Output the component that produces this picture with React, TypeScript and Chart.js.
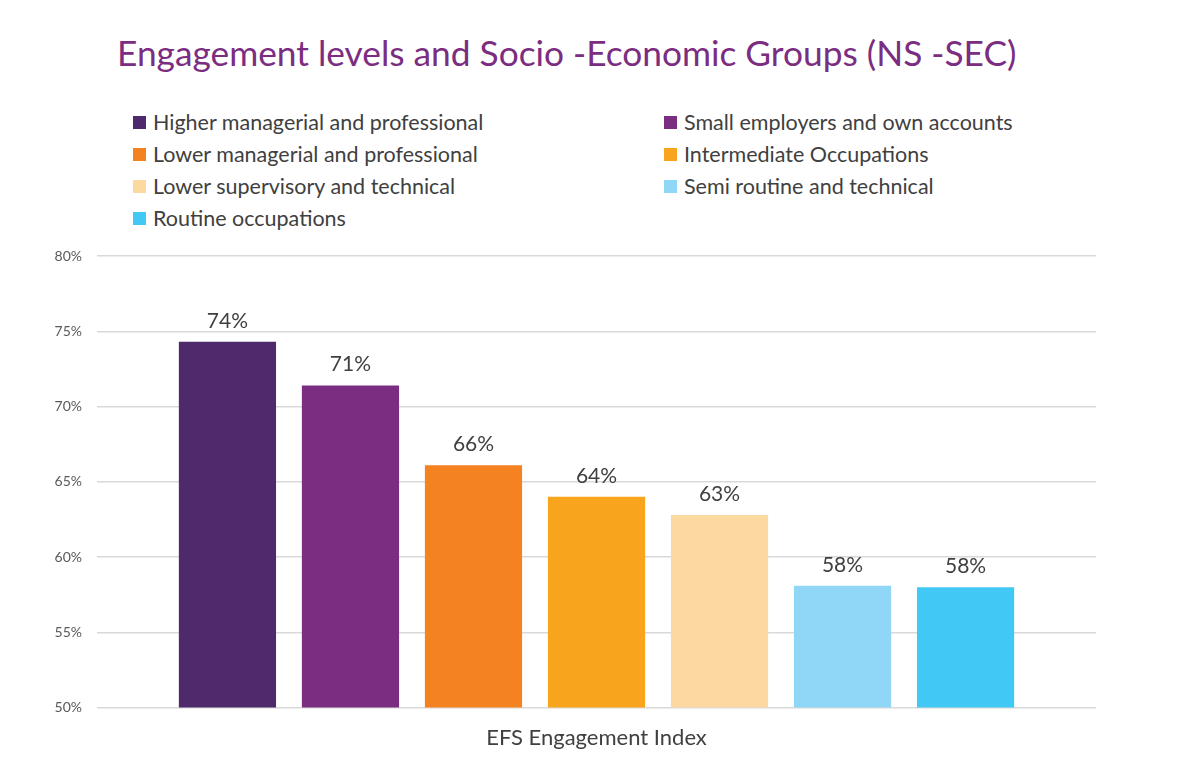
import { useEffect, useRef } from "react";
import { Chart, registerables, ChartConfiguration, Plugin } from "chart.js";

Chart.register(...registerables);

const categories = ["EFS Engagement Index"];

const groupNames = [
    "Higher managerial and professional",
    "Small employers and own accounts",
    "Lower managerial and professional",
    "Intermediate Occupations",
    "Lower supervisory and technical",
    "Semi routine and technical",
    "Routine occupations",
];

const groupValues = [74.3, 71.4, 66.1, 64.0, 62.8, 58.1, 58.0];

const groupColors = [
    "#4e2a6c",
    "#7b2d81",
    "#f58220",
    "#f8a51d",
    "#fdd9a2",
    "#8fd6f7",
    "#42c8f4",
];

const yTicks = [50, 55, 60, 65, 70, 75, 80];

const TEXT = "#404040";
const FONT = "Lato, 'Open Sans', sans-serif";

// draws "74%" etc. above each bar
const valueLabels: Plugin<"bar"> = {
    id: "valueLabels",
    afterDatasetsDraw(chart) {
        const ctx = chart.ctx;
        ctx.save();
        ctx.font = `21px ${FONT}`;
        ctx.fillStyle = TEXT;
        ctx.textAlign = "center";
        ctx.textBaseline = "alphabetic";
        chart.data.datasets.forEach((ds, i) => {
            const meta = chart.getDatasetMeta(i);
            meta.data.forEach((bar, j) => {
                const v = ds.data[j] as number;
                ctx.fillText(`${Math.round(v)}%`, bar.x, bar.y - 14);
            });
        });
        ctx.restore();
    },
};

export default function App() {
    const canvasRef = useRef<HTMLCanvasElement>(null);
    const chartRef = useRef<Chart | null>(null);

    useEffect(() => {
        if (!canvasRef.current) return;
        if (chartRef.current) chartRef.current.destroy();

        const config: ChartConfiguration<"bar"> = {
            type: "bar",
            data: {
                labels: categories,
                datasets: groupNames.map((name, i) => ({
                    label: name,
                    data: [groupValues[i]],
                    backgroundColor: groupColors[i],
                    borderWidth: 0,
                    categoryPercentage: 0.862,
                    barPercentage: 0.79,
                })),
            },
            options: {
                animation: false,
                responsive: true,
                maintainAspectRatio: false,
                layout: {
                    padding: { top: 256, left: 37, right: 104, bottom: 22 },
                },
                plugins: {
                    legend: { display: false },
                    title: { display: false },
                    tooltip: { enabled: false },
                },
                scales: {
                    x: {
                        grid: { display: false },
                        border: { display: false },
                        ticks: {
                            color: TEXT,
                            font: { family: FONT, size: 22 },
                            padding: 9,
                        },
                    },
                    y: {
                        min: 50,
                        max: 80,
                        afterFit(scale) {
                            scale.width = 60;
                        },
                        afterBuildTicks(scale) {
                            scale.ticks = yTicks.map(v => ({ value: v }));
                        },
                        grid: {
                            color: "#d9d9d9",
                            lineWidth: 1.5,
                            drawTicks: false,
                        },
                        border: { display: false },
                        ticks: {
                            color: "#595959",
                            font: { family: FONT, size: 14 },
                            padding: 15,
                            callback: v => `${v}%`,
                        },
                    },
                },
            },
            plugins: [valueLabels],
        };

        chartRef.current = new Chart(canvasRef.current, config);

        return () => {
            if (chartRef.current) {
                chartRef.current.destroy();
                chartRef.current = null;
            }
        };
    }, []);

    return (
        <div style={{ position: "fixed", left: 0, top: 0, width: 1200, height: 782, background: "#fff", fontFamily: FONT }}>
            <div style={{ position: "absolute", left: 117, top: 31, fontSize: 35.3, color: "#7b2d81", whiteSpace: "nowrap" }}>
                Engagement levels and Socio -Economic Groups (NS -SEC)
            </div>
            <div style={{ position: "absolute", left: 133, top: 110, display: "grid", gridTemplateColumns: "531px 420px", rowGap: 8 }}>
                {groupNames.map((name, i) => (
                    <div key={name} style={{ display: "flex", alignItems: "center", fontSize: 21.5, color: TEXT, height: 24 }}>
                        <span style={{ width: 13, height: 13, background: groupColors[i], marginRight: 7, display: "inline-block", flexShrink: 0 }} />
                        {name}
                    </div>
                ))}
            </div>
            <div style={{ position: "absolute", left: 0, top: 0, width: 1200, height: 782 }}>
                <canvas ref={canvasRef} />
            </div>
        </div>
    );
}
